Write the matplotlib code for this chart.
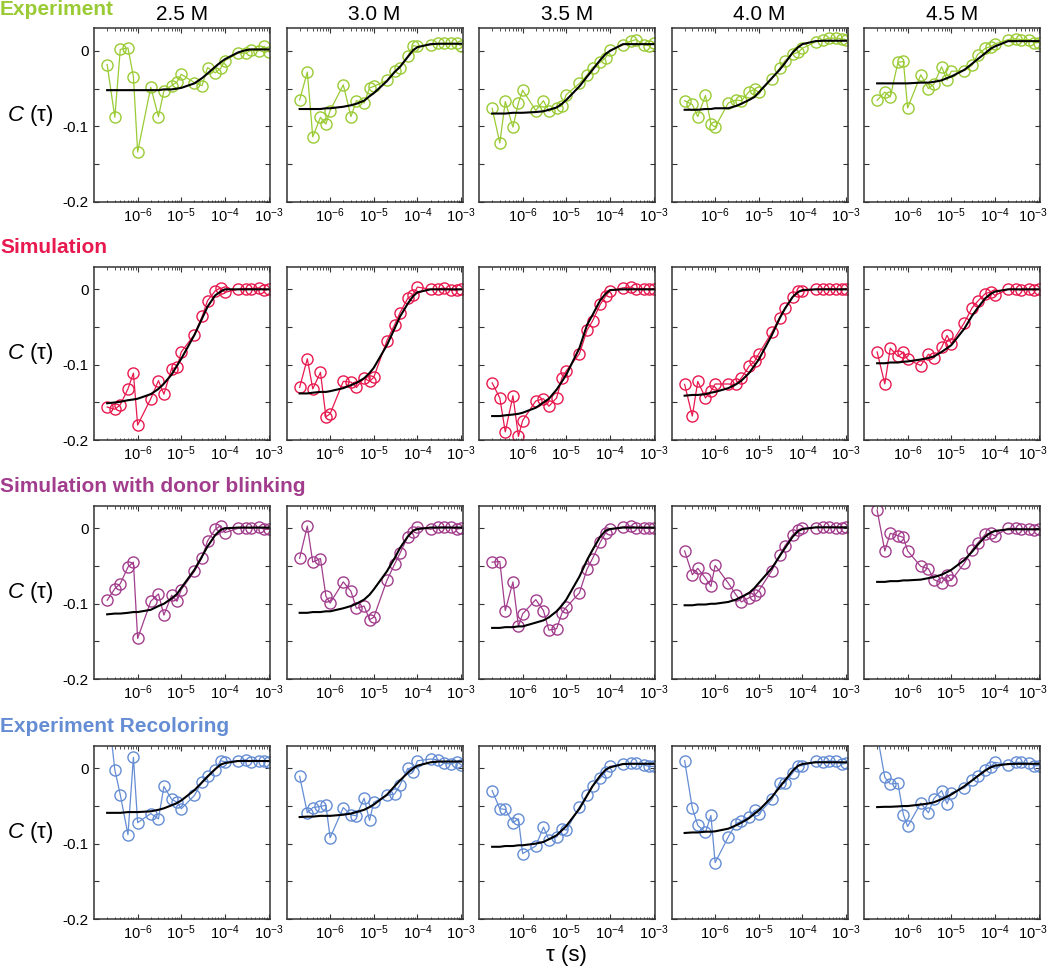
import numpy as np
import matplotlib
matplotlib.use('Agg')
import matplotlib.pyplot as plt
from matplotlib.ticker import FixedLocator, FixedFormatter, LogLocator, NullFormatter
from matplotlib.transforms import ScaledTranslation

# 폰트 설정 (Arial 대용)
plt.rcParams['font.family'] = ['Liberation Sans', 'DejaVu Sans']
plt.rcParams['mathtext.fontset'] = 'custom'
plt.rcParams['mathtext.rm'] = 'Liberation Sans'
plt.rcParams['mathtext.it'] = 'Liberation Sans:italic'
plt.rcParams['axes.unicode_minus'] = False

# lag times (s)
tau = [2e-7, 3e-7, 4e-7, 6e-7, 8e-7, 1e-6, 2e-6, 3e-6, 4e-6, 6e-6, 8e-6, 1e-5,
       2e-5, 3e-5, 4e-5, 6e-5, 8e-5, 1e-4, 2e-4, 3e-4, 4e-4, 6e-4, 8e-4, 1e-3]

concentrations = ['2.5 M', '3.0 M', '3.5 M', '4.0 M', '4.5 M']
row_titles = ['Experiment', 'Simulation', 'Simulation with donor blinking', 'Experiment Recoloring']
row_colors = ['#9acb34', '#e8194f', '#a23d8d', '#658dd4']

# ---- Experiment ----
exp_data = [
    [-0.018, -0.088, 0.002, 0.004, -0.034, -0.134, -0.048, -0.087, -0.053, -0.046, -0.041, -0.031,
     -0.042, -0.046, -0.022, -0.029, -0.023, -0.013, -0.003, -0.003, 0.001, 0.000, 0.006, -0.001],
    [-0.065, -0.028, -0.114, -0.088, -0.097, -0.079, -0.045, -0.087, -0.066, -0.069, -0.049, -0.047,
     -0.039, -0.027, -0.022, -0.007, 0.007, 0.006, 0.008, 0.010, 0.010, 0.010, 0.010, 0.007],
    [-0.076, -0.122, -0.067, -0.101, -0.069, -0.052, -0.079, -0.066, -0.080, -0.075, -0.073, -0.058,
     -0.043, -0.032, -0.022, -0.015, -0.009, 0.001, 0.008, 0.013, 0.015, 0.008, 0.007, 0.011],
    [-0.066, -0.071, -0.087, -0.059, -0.097, -0.101, -0.069, -0.065, -0.066, -0.054, -0.051, -0.055,
     -0.037, -0.023, -0.013, -0.004, -0.002, 0.0035, 0.012, 0.0145, 0.017, 0.017, 0.016, 0.015],
    [-0.0655, -0.0545, -0.061, -0.015, -0.014, -0.0756, -0.0316, -0.050, -0.044, -0.021, -0.0387, -0.027,
     -0.026, -0.019, -0.005, 0.0035, 0.0057, 0.0092, 0.015, 0.016, 0.015, 0.015, 0.011, 0.011],
]
exp_fit = [
    [-0.052, -0.052, -0.052, -0.052, -0.052, -0.052, -0.052, -0.052, -0.051, -0.051, -0.050, -0.049,
     -0.043, -0.036, -0.030, -0.021, -0.015, -0.011, -0.002, 0.001, 0.002, 0.002, 0.002, 0.002],
    [-0.077, -0.077, -0.077, -0.077, -0.076, -0.076, -0.074, -0.072, -0.070, -0.066, -0.060, -0.056,
     -0.040, -0.028, -0.021, -0.008, 0.001, 0.005, 0.009, 0.0095, 0.0095, 0.0095, 0.0095, 0.0095],
    [-0.083, -0.083, -0.083, -0.082, -0.082, -0.082, -0.081, -0.080, -0.078, -0.075, -0.070, -0.065,
     -0.047, -0.034, -0.025, -0.012, -0.004, 0.000, 0.009, 0.009, 0.009, 0.009, 0.009, 0.009],
    [-0.078, -0.078, -0.078, -0.077, -0.077, -0.076, -0.076, -0.073, -0.070, -0.065, -0.061, -0.055,
     -0.036, -0.025, -0.016, -0.002, 0.005, 0.009, 0.013, 0.0135, 0.0135, 0.0135, 0.0135, 0.0135],
    [-0.043, -0.043, -0.043, -0.043, -0.043, -0.043, -0.042, -0.042, -0.041, -0.039, -0.036, -0.034,
     -0.025, -0.017, -0.011, -0.003, 0.003, 0.006, 0.013, 0.013, 0.013, 0.013, 0.013, 0.013],
]

# ---- Simulation ----
sim_data = [
    [-0.156, -0.159, -0.153, -0.132, -0.111, -0.180, -0.145, -0.121, -0.139, -0.105, -0.1035, -0.083,
     -0.060, -0.036, -0.015, -0.002, 0.002, -0.004, 0.000, 0.001, 0.001, 0.002, -0.001, 0.000],
    [-0.130, -0.092, -0.132, -0.110, -0.169, -0.165, -0.122, -0.123, -0.130, -0.1175, -0.122, -0.1167,
     -0.068, -0.047, -0.031, -0.012, -0.007, 0.003, 0.000, 0.000, 0.002, -0.001, -0.0005, 0.000],
    [-0.124, -0.144, -0.189, -0.141, -0.195, -0.174, -0.148, -0.145, -0.155, -0.144, -0.117, -0.108,
     -0.0855, -0.054, -0.042, -0.020, -0.009, -0.002, 0.002, 0.003, 0.000, 0.001, 0.000, 0.001],
    [-0.126, -0.168, -0.122, -0.144, -0.135, -0.1255, -0.1255, -0.126, -0.1175, -0.102, -0.0956, -0.0855,
     -0.057, -0.0377, -0.0246, -0.010, -0.0026, -0.0026, 0.000, 0.000, 0.001, 0.000, 0.000, 0.001],
    [-0.083, -0.1254, -0.078, -0.089, -0.083, -0.093, -0.101, -0.086, -0.091, -0.077, -0.061, -0.072,
     -0.044, -0.0246, -0.016, -0.0057, -0.0035, -0.008, 0.000, 0.000, -0.001, 0.000, -0.001, 0.000],
]
sim_fit = [
    [-0.151, -0.150, -0.149, -0.147, -0.146, -0.145, -0.139, -0.132, -0.125, -0.113, -0.101, -0.092,
     -0.0605, -0.0386, -0.023, -0.008, -0.003, 0.000, 0.000, 0.000, 0.000, 0.000, 0.000, 0.000],
    [-0.138, -0.138, -0.137, -0.136, -0.136, -0.135, -0.131, -0.127, -0.124, -0.118, -0.111, -0.104,
     -0.074, -0.052, -0.036, -0.019, -0.009, -0.004, 0.000, 0.000, 0.000, 0.000, 0.000, 0.000],
    [-0.168, -0.168, -0.167, -0.166, -0.165, -0.1636, -0.157, -0.150, -0.145, -0.133, -0.122, -0.113,
     -0.078, -0.047, -0.034, -0.0145, -0.0057, -0.001, 0.000, 0.000, 0.000, 0.000, 0.000, 0.000],
    [-0.141, -0.140, -0.140, -0.139, -0.137, -0.136, -0.131, -0.126, -0.121, -0.111, -0.101, -0.093,
     -0.0605, -0.0386, -0.0254, -0.010, -0.0035, -0.001, 0.000, 0.000, 0.000, 0.000, 0.000, 0.000],
    [-0.098, -0.098, -0.097, -0.097, -0.096, -0.0956, -0.093, -0.091, -0.089, -0.083, -0.078, -0.074,
     -0.052, -0.035, -0.025, -0.012, -0.006, -0.003, 0.000, 0.000, 0.000, 0.000, 0.000, 0.000],
]

# ---- Simulation with donor blinking ----
blink_data = [
    [-0.0954, -0.080, -0.0734, -0.0514, -0.0448, -0.146, -0.0967, -0.087, -0.115, -0.0888, -0.0967, -0.0813,
     -0.057, -0.0387, -0.0167, -0.0013, 0.0035, -0.0057, 0.000, 0.001, 0.000, 0.0013, -0.0013, -0.0013],
    [-0.0396, 0.003, -0.0448, -0.040, -0.090, -0.099, -0.071, -0.0835, -0.106, -0.103, -0.121, -0.118,
     -0.069, -0.0475, -0.033, -0.011, -0.0044, 0.002, -0.0013, 0.0013, 0.002, 0.0013, -0.001, 0.000],
    [-0.0448, -0.044, -0.109, -0.071, -0.130, -0.1134, -0.0945, -0.109, -0.135, -0.133, -0.112, -0.1046,
     -0.0857, -0.054, -0.040, -0.0185, -0.0057, -0.001, 0.002, 0.003, 0.001, 0.000, 0.000, 0.001],
    [-0.030, -0.0615, -0.053, -0.066, -0.077, -0.049, -0.0725, -0.088, -0.0976, -0.092, -0.089, -0.0826,
     -0.056, -0.036, -0.023, -0.0088, -0.002, 0.000, 0.001, 0.0013, 0.002, 0.001, 0.000, 0.002],
    [0.024, -0.030, -0.0066, -0.0097, -0.012, -0.030, -0.0505, -0.0536, -0.068, -0.0725, -0.0615, -0.069,
     -0.046, -0.0286, -0.0198, -0.008, -0.0066, -0.010, 0.000, 0.000, -0.0013, -0.0013, -0.002, -0.0013],
]
blink_fit = [
    [-0.114, -0.113, -0.113, -0.112, -0.111, -0.111, -0.108, -0.103, -0.100, -0.093, -0.087, -0.079,
     -0.055, -0.037, -0.024, -0.009, -0.002, 0.000, 0.001, 0.001, 0.001, 0.001, 0.001, 0.001],
    [-0.112, -0.112, -0.111, -0.111, -0.110, -0.110, -0.106, -0.103, -0.100, -0.0945, -0.088, -0.081,
     -0.057, -0.0396, -0.026, -0.011, -0.003, -0.001, 0.001, 0.001, 0.001, 0.001, 0.001, 0.001],
    [-0.132, -0.132, -0.131, -0.131, -0.130, -0.130, -0.125, -0.122, -0.118, -0.110, -0.102, -0.0945,
     -0.064, -0.042, -0.0286, -0.011, -0.003, -0.001, 0.001, 0.001, 0.001, 0.001, 0.001, 0.001],
    [-0.102, -0.102, -0.101, -0.101, -0.100, -0.100, -0.0976, -0.0945, -0.091, -0.0857, -0.079, -0.0725,
     -0.0527, -0.037, -0.026, -0.011, -0.0035, -0.001, 0.0013, 0.0013, 0.0013, 0.0013, 0.0013, 0.0013],
    [-0.071, -0.071, -0.070, -0.070, -0.069, -0.069, -0.068, -0.066, -0.0646, -0.0615, -0.058, -0.055,
     -0.042, -0.031, -0.022, -0.011, -0.0057, -0.0035, -0.0013, -0.0013, -0.0013, -0.0013, -0.0013, -0.0013],
]

# ---- Experiment Recoloring ----
recol_data = [
    [0.090, -0.002, -0.035, -0.088, 0.0145, -0.072, -0.060, -0.067, -0.024, -0.041, -0.045, -0.0536,
     -0.036, -0.0176, -0.0097, -0.0018, 0.010, 0.0088, 0.010, 0.0114, 0.0088, 0.010, 0.010, 0.0088],
    [-0.0105, -0.059, -0.052, -0.0505, -0.049, -0.092, -0.052, -0.0615, -0.063, -0.0396, -0.069, -0.045,
     -0.036, -0.034, -0.022, 0.000, -0.0044, 0.010, 0.0123, 0.0114, 0.0066, 0.0057, 0.0088, 0.0048],
    [-0.0295, -0.0536, -0.0545, -0.072, -0.0668, -0.113, -0.103, -0.078, -0.0945, -0.091, -0.080, -0.082,
     -0.0514, -0.035, -0.0237, -0.013, -0.0044, 0.0026, 0.0057, 0.0066, 0.0066, 0.0044, 0.0026, 0.0026],
    [0.010, -0.0527, -0.0756, -0.085, -0.0624, -0.125, -0.091, -0.0734, -0.070, -0.0646, -0.0558, -0.060,
     -0.0413, -0.0193, -0.0193, -0.006, 0.0035, 0.0035, 0.0092, 0.008, 0.010, 0.0092, 0.0057, 0.0066],
    [0.045, -0.012, -0.0207, -0.0198, -0.0615, -0.077, -0.046, -0.059, -0.040, -0.0295, -0.047, -0.0325,
     -0.026, -0.016, -0.0105, -0.0018, 0.0022, 0.008, 0.0048, 0.008, 0.008, 0.0066, 0.0035, 0.0035],
]
recol_fit = [
    [-0.059, -0.059, -0.059, -0.058, -0.058, -0.058, -0.057, -0.055, -0.053, -0.049, -0.046, -0.0426,
     -0.029, -0.0185, -0.011, -0.001, 0.005, 0.007, 0.0097, 0.0097, 0.0097, 0.0097, 0.0097, 0.0097],
    [-0.0646, -0.064, -0.064, -0.063, -0.063, -0.063, -0.0615, -0.060, -0.058, -0.055, -0.0514, -0.048,
     -0.035, -0.0237, -0.016, -0.006, 0.000, 0.0035, 0.008, 0.009, 0.009, 0.009, 0.009, 0.009],
    [-0.104, -0.104, -0.103, -0.103, -0.102, -0.102, -0.0998, -0.0976, -0.094, -0.0888, -0.082, -0.0765,
     -0.0536, -0.036, -0.0237, -0.0097, -0.0018, 0.0013, 0.0057, 0.006, 0.006, 0.006, 0.006, 0.006],
    [-0.0857, -0.085, -0.085, -0.084, -0.084, -0.0835, -0.080, -0.0756, -0.072, -0.066, -0.060, -0.0558,
     -0.038, -0.025, -0.016, -0.003, 0.0035, 0.0057, 0.008, 0.008, 0.008, 0.008, 0.008, 0.008],
    [-0.0514, -0.051, -0.051, -0.0505, -0.050, -0.050, -0.048, -0.0466, -0.045, -0.041, -0.0374, -0.0347,
     -0.0237, -0.016, -0.0105, -0.003, 0.0013, 0.0035, 0.0057, 0.006, 0.006, 0.006, 0.006, 0.006],
]

all_data = [exp_data, sim_data, blink_data, recol_data]
all_fit = [exp_fit, sim_fit, blink_fit, recol_fit]

# 그림 그리기
W, H = 1050, 975
fig = plt.figure(figsize=(W / 100, H / 100), dpi=100)

col_left = [94, 286.5, 479, 671.5, 864]
row_top = [28.3, 266.7, 505.7, 745.7]
pw, ph = 176, 173.5

for r in range(4):
    for c in range(5):
        ax = fig.add_axes([col_left[c] / W, 1 - (row_top[r] + ph) / H, pw / W, ph / H])
        ax.plot(tau, all_data[r][c], '-o', color=row_colors[r], lw=0.9, ms=8,
                mfc='none', mew=1.0, zorder=2)
        ax.plot(tau, all_fit[r][c], '-', color='black', lw=1.5, zorder=3)

        ax.set_xscale('log')
        ax.set_xlim(1e-7, 1.08e-3)
        ax.set_ylim(-0.2, 0.03)

        ax.xaxis.set_major_locator(FixedLocator([1e-6, 1e-5, 1e-4, 1e-3]))
        ax.xaxis.set_major_formatter(FixedFormatter([r'$10^{-6}$', r'$10^{-5}$', r'$10^{-4}$', r'$10^{-3}$']))
        ax.xaxis.set_minor_locator(LogLocator(base=10, subs=np.arange(2, 10), numticks=20))
        ax.xaxis.set_minor_formatter(NullFormatter())

        ax.yaxis.set_major_locator(FixedLocator([-0.2, -0.15, -0.1, -0.05, 0]))
        if c == 0:
            ax.yaxis.set_major_formatter(FixedFormatter(['-0.2', '', '-0.1', '', '0']))
            ax.text(-0.36, 0.5, r'$C$ (τ)', transform=ax.transAxes, ha='center', va='center', fontsize=16)
        else:
            ax.yaxis.set_major_formatter(NullFormatter())

        ax.tick_params(which='both', direction='in', top=True, right=True, color='#333333')
        ax.tick_params(which='major', length=3.5, width=0.8, pad=4)
        ax.tick_params(axis='y', which='major', labelsize=11)
        ax.tick_params(axis='x', which='major', labelsize=10.5, pad=3)
        ax.tick_params(which='minor', length=1.8, width=0.6)
        for s in ax.spines.values():
            s.set_linewidth(1.1)
            s.set_color('#333333')

        # 마지막 열의 10^-3 라벨이 잘리지 않도록 살짝 왼쪽으로
        if c == 4:
            last = ax.xaxis.get_major_ticks()[-1].label1
            last.set_transform(last.get_transform() + ScaledTranslation(-4 / 72, 0, fig.dpi_scale_trans))

        if r == 0:
            ax.set_title(concentrations[c], fontsize=15, pad=6)

    fig.text(0.0, 1 - (row_top[r] - 19) / H, row_titles[r], color=row_colors[r],
             fontsize=15, fontweight='bold', ha='left', va='center')

fig.text(566 / W, 1 - 955 / H, 'τ (s)', ha='center', va='center', fontsize=16)

plt.savefig('out.png', dpi=100)
